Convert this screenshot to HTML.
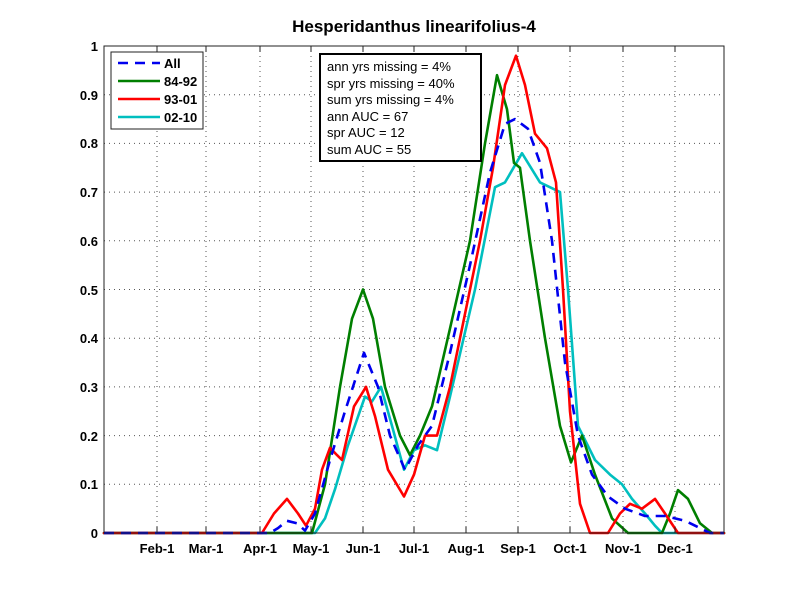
<!DOCTYPE html>
<html><head><meta charset="utf-8"><style>
html,body{margin:0;padding:0;background:#fff;}
svg{display:block;font-family:"Liberation Sans",Arial,sans-serif;}
</style></head><body>
<svg width="800" height="600" xmlns="http://www.w3.org/2000/svg">
<rect width="800" height="600" fill="#fff"/>
<g stroke="#555" stroke-width="1" stroke-dasharray="1,4">
<line x1="157" y1="46" x2="157" y2="533"/><line x1="206" y1="46" x2="206" y2="533"/><line x1="260" y1="46" x2="260" y2="533"/><line x1="311" y1="46" x2="311" y2="533"/><line x1="363" y1="46" x2="363" y2="533"/><line x1="414" y1="46" x2="414" y2="533"/><line x1="466" y1="46" x2="466" y2="533"/><line x1="518" y1="46" x2="518" y2="533"/><line x1="570" y1="46" x2="570" y2="533"/><line x1="623" y1="46" x2="623" y2="533"/><line x1="675" y1="46" x2="675" y2="533"/>
<line x1="104" y1="484.3" x2="724" y2="484.3"/><line x1="104" y1="435.6" x2="724" y2="435.6"/><line x1="104" y1="386.9" x2="724" y2="386.9"/><line x1="104" y1="338.2" x2="724" y2="338.2"/><line x1="104" y1="289.5" x2="724" y2="289.5"/><line x1="104" y1="240.8" x2="724" y2="240.8"/><line x1="104" y1="192.1" x2="724" y2="192.1"/><line x1="104" y1="143.4" x2="724" y2="143.4"/><line x1="104" y1="94.7" x2="724" y2="94.7"/>
</g>
<g fill="none" stroke-width="2.6" stroke-linejoin="round" stroke-linecap="round">
<polyline stroke="#00bfbf" points="104,533 315,533 325,518.4 335,489.2 348,445.3 365,396.6 372,401.5 381,386.9 392,425.9 404,469.7 414,450.2 425,445.3 437,450.2 450,396.6 475,289.5 495,187.2 505,182.4 522,153.2 540,182.4 560,192.1 568,289.5 578,425.9 595,460 610,474.6 622,484.3 632,498.9 645,513.5 655,525.7 662,533 724,533"/>
<polyline stroke="#007f00" points="104,533 312,533 325,484.3 340,386.9 352,318.7 363,289.5 373,318.7 385,386.9 400,435.6 410,455.1 420,435.6 432,406.4 450,328.5 470,240.8 485,143.4 497,75.2 507,109.3 514,162.9 520,167.8 530,240.8 545,338.2 560,425.9 571,462.4 582,435.6 595,474.6 612,518.4 628,533 662,533 670,513.5 678,490.1 688,498.9 700,523.3 712,533 724,533"/>
<polyline stroke="#ff0000" points="104,533 262,533 274,513.5 287,498.9 298,513.5 306,525.7 315,508.7 322,469.7 330,447.8 337,455.1 342,460 354,406.4 366,386.9 375,416.1 388,469.7 404,496.5 414,474.6 425,435.6 437,435.6 450,386.9 465,313.9 480,240.8 493,167.8 505,85 516,55.7 525,85 535,133.7 547,148.3 556,182.4 563,289.5 570,411.3 580,503.8 590,533 608,533 620,513.5 630,503.8 642,508.7 655,498.9 665,513.5 678,533 724,533"/>
<polyline stroke="#0000ee" stroke-dasharray="10,7" stroke-linecap="butt" points="104,533 270,533 278,528.1 287,520.8 297,523.3 305,530.6 315,513.5 330,460 345,411.3 364,352.8 378,386.9 390,435.6 405,469.7 418,445.3 432,425.9 450,352.8 470,265.2 490,172.6 505,123.9 515,119.1 528,128.8 540,162.9 552,240.8 565,362.6 578,435.6 592,474.6 608,496.5 625,508.7 645,516 665,516 685,520.8 700,528.1 710,533 724,533"/>
</g>
<rect x="104" y="46" width="620" height="487" fill="none" stroke="#222" stroke-width="1"/>
<g stroke="#222">
<line x1="157" y1="533" x2="157" y2="527"/><line x1="206" y1="533" x2="206" y2="527"/><line x1="260" y1="533" x2="260" y2="527"/><line x1="311" y1="533" x2="311" y2="527"/><line x1="363" y1="533" x2="363" y2="527"/><line x1="414" y1="533" x2="414" y2="527"/><line x1="466" y1="533" x2="466" y2="527"/><line x1="518" y1="533" x2="518" y2="527"/><line x1="570" y1="533" x2="570" y2="527"/><line x1="623" y1="533" x2="623" y2="527"/><line x1="675" y1="533" x2="675" y2="527"/>
<line x1="157" y1="46" x2="157" y2="52"/><line x1="206" y1="46" x2="206" y2="52"/><line x1="260" y1="46" x2="260" y2="52"/><line x1="311" y1="46" x2="311" y2="52"/><line x1="363" y1="46" x2="363" y2="52"/><line x1="414" y1="46" x2="414" y2="52"/><line x1="466" y1="46" x2="466" y2="52"/><line x1="518" y1="46" x2="518" y2="52"/><line x1="570" y1="46" x2="570" y2="52"/><line x1="623" y1="46" x2="623" y2="52"/><line x1="675" y1="46" x2="675" y2="52"/>
</g>
<g font-size="13" font-weight="bold" text-anchor="middle">
<text x="157" y="553">Feb-1</text><text x="206" y="553">Mar-1</text><text x="260" y="553">Apr-1</text><text x="311" y="553">May-1</text><text x="363" y="553">Jun-1</text><text x="414" y="553">Jul-1</text><text x="466" y="553">Aug-1</text><text x="518" y="553">Sep-1</text><text x="570" y="553">Oct-1</text><text x="623" y="553">Nov-1</text><text x="675" y="553">Dec-1</text>
</g>
<g font-size="13" font-weight="bold" text-anchor="end">
<text x="98" y="538">0</text><text x="98" y="489">0.1</text><text x="98" y="441">0.2</text><text x="98" y="392">0.3</text><text x="98" y="343">0.4</text><text x="98" y="295">0.5</text><text x="98" y="246">0.6</text><text x="98" y="197">0.7</text><text x="98" y="148">0.8</text><text x="98" y="100">0.9</text><text x="98" y="51">1</text>
</g>
<text x="414" y="32" font-size="17" font-weight="bold" text-anchor="middle">Hesperidanthus linearifolius-4</text>
<rect x="111" y="52" width="92" height="77" fill="#fff" stroke="#222" stroke-width="1"/>
<line x1="118" y1="63" x2="160" y2="63" stroke="#0000ee" stroke-width="2.6" stroke-dasharray="10,7"/>
<line x1="118" y1="81" x2="160" y2="81" stroke="#007f00" stroke-width="2.6"/>
<line x1="118" y1="99" x2="160" y2="99" stroke="#ff0000" stroke-width="2.6"/>
<line x1="118" y1="117" x2="160" y2="117" stroke="#00bfbf" stroke-width="2.6"/>
<g font-size="13" font-weight="bold">
<text x="164" y="68">All</text><text x="164" y="86">84-92</text><text x="164" y="104">93-01</text><text x="164" y="122">02-10</text>
</g>
<rect x="320" y="54" width="161" height="107" fill="#fff" stroke="#000" stroke-width="2"/>
<g font-size="13">
<text x="327" y="71">ann yrs missing = 4%</text>
<text x="327" y="88">spr yrs missing = 40%</text>
<text x="327" y="104">sum yrs missing = 4%</text>
<text x="327" y="121">ann AUC = 67</text>
<text x="327" y="137">spr AUC = 12</text>
<text x="327" y="154">sum AUC = 55</text>
</g>
</svg>
</body></html>
